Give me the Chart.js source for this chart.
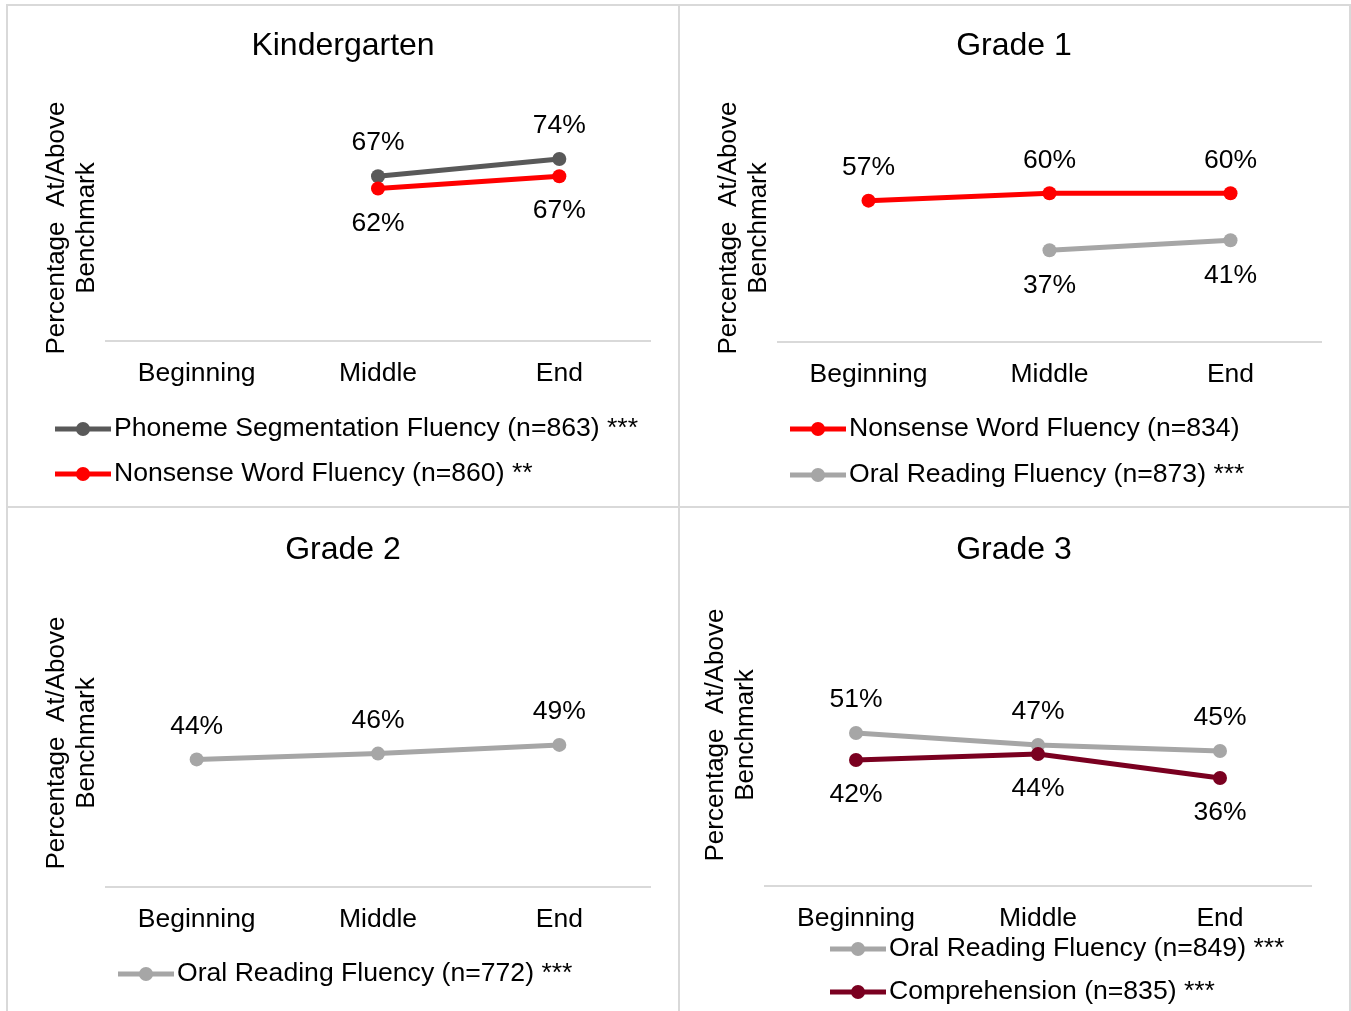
<!DOCTYPE html>
<html>
<head>
<meta charset="utf-8">
<script src="https://cdn.jsdelivr.net/npm/chart.js"></script>
<style>
	body { margin: 0; background: #fff; width: 1351px; height: 1011px; position: relative; overflow: hidden; }
	canvas { position: absolute; }
	.linea { position: absolute; background: #d9d9d9; }
</style>
</head>
<body>
<div class="linea" style="left:6px;top:4px;width:1345px;height:2px"></div>
<div class="linea" style="left:6px;top:4px;width:2px;height:1007px"></div>
<div class="linea" style="left:678px;top:4px;width:2px;height:1007px"></div>
<div class="linea" style="left:1349px;top:4px;width:2px;height:1007px"></div>
<div class="linea" style="left:6px;top:506px;width:1345px;height:2px"></div>

<canvas id="kinder" width="670" height="500" style="left:8px;top:6px"></canvas>
<canvas id="grado1" width="669" height="500" style="left:680px;top:6px"></canvas>
<canvas id="grado2" width="670" height="503" style="left:8px;top:508px"></canvas>
<canvas id="grado3" width="669" height="503" style="left:680px;top:508px"></canvas>

<script>
// datos
const etapas = ["Beginning", "Middle", "End"];
const tituloEje = ["Percentage  At/Above", "Benchmark"];

const kinderPSF = [null, 67, 74];
const kinderNWF = [null, 62, 67];
const grado1NWF = [57, 60, 60];
const grado1ORF = [null, 37, 41];
const grado2ORF = [44, 46, 49];
const grado3ORF = [51, 47, 45];
const grado3COMP = [42, 44, 36];

const nombreKinderPSF = "Phoneme Segmentation Fluency (n=863) ***";
const nombreKinderNWF = "Nonsense Word Fluency (n=860) **";
const nombreGrado1NWF = "Nonsense Word Fluency (n=834)";
const nombreGrado1ORF = "Oral Reading Fluency (n=873) ***";
const nombreGrado2ORF = "Oral Reading Fluency (n=772) ***";
const nombreGrado3ORF = "Oral Reading Fluency (n=849) ***";
const nombreGrado3COMP = "Comprehension (n=835) ***";

const FUENTE = '"Liberation Sans", Arial, sans-serif';
const GRIS_OSCURO = "#595959";
const ROJO = "#ff0000";
const GRIS = "#a6a6a6";
const GRANATE = "#7a0020";

// plugin que dibuja titulo, titulo del eje y, etiquetas de valores y leyenda
const textosPlugin = {
	id: "textos",
	afterDatasetsDraw(chart, args, opts) {
		const ctx = chart.ctx;
		ctx.save();
		ctx.fillStyle = "#000";
		ctx.textAlign = "center";
		ctx.textBaseline = "middle";

		// etiquetas de cada punto
		ctx.font = "26.5px " + FUENTE;
		chart.data.datasets.forEach((ds, i) => {
			const meta = chart.getDatasetMeta(i);
			meta.data.forEach((pt, j) => {
				if (ds.data[j] == null) return;
				const dy = ds.etiqueta === "arriba" ? -33 : 35;
				ctx.fillText(ds.data[j] + "%", pt.x, pt.y + dy);
			});
		});

		// titulo del panel
		ctx.font = "32px " + FUENTE;
		ctx.fillText(opts.titulo, opts.tituloX, opts.tituloY);

		// titulo del eje y (dos lineas, girado)
		ctx.font = "26px " + FUENTE;
		opts.ejeX.forEach((x, k) => {
			ctx.save();
			ctx.translate(x, opts.ejeY);
			ctx.rotate(-Math.PI / 2);
			ctx.fillText(tituloEje[k], 0, 0);
			ctx.restore();
		});

		// leyenda
		ctx.font = "26.6px " + FUENTE;
		ctx.textAlign = "left";
		chart.data.datasets.forEach((ds, i) => {
			const y = opts.leyendaY[i];
			const x0 = opts.leyendaX;
			ctx.strokeStyle = ds.borderColor;
			ctx.lineWidth = 5;
			ctx.beginPath();
			ctx.moveTo(x0, y);
			ctx.lineTo(x0 + 56, y);
			ctx.stroke();
			ctx.fillStyle = ds.borderColor;
			ctx.beginPath();
			ctx.arc(x0 + 28, y, 7, 0, Math.PI * 2);
			ctx.fill();
			ctx.fillStyle = "#000";
			ctx.fillText(ds.label, x0 + 59, y);
		});
		ctx.restore();
	},
};

const serie = (label, data, color, etiqueta, orden) => ({
	label,
	data,
	etiqueta,
	order: orden,
	borderColor: color,
	backgroundColor: color,
	borderWidth: 5,
	pointRadius: 7,
	pointHoverRadius: 7,
	pointBorderWidth: 0,
	tension: 0,
});

const grafico = (id, series, caja, textos) => {
	const canvas = document.getElementById(id);
	const config = {
		type: "line",
		data: { labels: etapas, datasets: series },
		options: {
			responsive: false,
			animation: false,
			devicePixelRatio: 1,
			layout: {
				padding: {
					left: caja.left,
					right: canvas.width - caja.right,
					top: caja.top,
					bottom: canvas.height - caja.bottom - 50,
				},
			},
			plugins: {
				legend: { display: false },
				title: { display: false },
				tooltip: { enabled: false },
				textos,
			},
			scales: {
				x: {
					offset: true,
					grid: { display: false },
					border: { display: true, color: "#d9d9d9", width: 2 },
					ticks: { color: "#000", padding: 9, font: { size: 26.5, family: FUENTE } },
					afterFit: (scale) => {
						scale.height = 50;
					},
				},
				y: { display: false, min: 0, max: 100 },
			},
		},
		plugins: [textosPlugin],
	};
	new Chart(canvas, config);
};

grafico(
	"kinder",
	[serie(nombreKinderPSF, kinderPSF, GRIS_OSCURO, "arriba", 1), serie(nombreKinderNWF, kinderNWF, ROJO, "abajo", 0)],
	{ left: 98, right: 642, top: 89, bottom: 335 },
	{ titulo: "Kindergarten", tituloX: 335, tituloY: 40, ejeX: [49, 79], ejeY: 222, leyendaX: 47, leyendaY: [423, 468] }
);

grafico(
	"grado1",
	[serie(nombreGrado1NWF, grado1NWF, ROJO, "arriba", 0), serie(nombreGrado1ORF, grado1ORF, GRIS, "abajo", 1)],
	{ left: 98, right: 641, top: 88, bottom: 336 },
	{ titulo: "Grade 1", tituloX: 334, tituloY: 40, ejeX: [49, 79], ejeY: 222, leyendaX: 110, leyendaY: [423, 469] }
);

grafico(
	"grado2",
	[serie(nombreGrado2ORF, grado2ORF, GRIS, "arriba", 0)],
	{ left: 98, right: 642, top: 89, bottom: 379 },
	{ titulo: "Grade 2", tituloX: 335, tituloY: 42, ejeX: [49, 79], ejeY: 235, leyendaX: 110, leyendaY: [466] }
);

grafico(
	"grado3",
	[serie(nombreGrado3ORF, grado3ORF, GRIS, "arriba", 1), serie(nombreGrado3COMP, grado3COMP, GRANATE, "abajo", 0)],
	{ left: 85, right: 631, top: 78, bottom: 378 },
	{ titulo: "Grade 3", tituloX: 334, tituloY: 42, ejeX: [36, 66], ejeY: 227, leyendaX: 150, leyendaY: [441, 484] }
);
</script>
</body>
</html>
